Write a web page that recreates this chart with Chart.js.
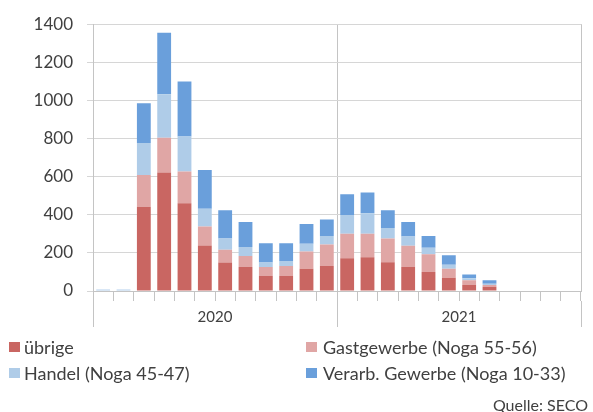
<!DOCTYPE html>
<html>
<head>
<meta charset="utf-8">
<script src="https://cdn.jsdelivr.net/npm/chart.js@4"></script>
<style>
  html, body { margin: 0; padding: 0; background: #fff; }
  #wrap { position: relative; width: 593px; height: 412px; font-family: Lato, "Open Sans", sans-serif; color: #404040; }
  #c { position: absolute; left: 0; top: 0; }
  .lg { position: absolute; font-size: 18px; line-height: 20px; white-space: nowrap; }
  .sq { position: absolute; width: 11px; height: 10px; }
  #src { position: absolute; right: 5px; top: 395px; font-size: 16px; line-height: 20px; }
</style>
</head>
<body>
<div id="wrap">
  <canvas id="c" width="593" height="412"></canvas>
  <div id="legend"></div>
  <div id="src">Quelle: SECO</div>
</div>
<script>
const categories = ['Jan 2020','Feb 2020','Mär 2020','Apr 2020','Mai 2020','Jun 2020','Jul 2020','Aug 2020','Sep 2020','Okt 2020','Nov 2020','Dez 2020',
                    'Jan 2021','Feb 2021','Mär 2021','Apr 2021','Mai 2021','Jun 2021','Jul 2021','Aug 2021','Sep 2021','Okt 2021','Nov 2021','Dez 2021'];
const years = ['2020', '2021'];
const uebrige = [0,0,441,622,461,239,150,126,79,79,117,131,172,177,151,126,100,69,31,22,0,0,0,0];
const gastgewerbe = [0,0,168,182,166,100,67,58,47,52,90,113,129,124,124,112,93,48,26,9,0,0,0,0];
const handel = [5,5,168,229,184,93,58,47,24,26,41,45,98,107,56,48,34,21,10,7,0,0,0,0];
const verarb = [2,2,208,322,288,203,149,131,101,94,103,86,109,109,93,76,62,50,19,19,0,0,0,0];
const yTicks = [0,200,400,600,800,1000,1200,1400];

const seriesNames = ['übrige','Gastgewerbe (Noga 55-56)','Handel (Noga 45-47)','Verarb. Gewerbe (Noga 10-33)'];
const seriesColors = ['#c96662','#e0a6a5','#afcce8','#6a9fdb'];
const seriesData = [uebrige, gastgewerbe, handel, verarb];

const gridColor = '#d6d6d6';
const axisColor = '#c4c4c4';
const FONT = 'Lato, "Open Sans", sans-serif';

new Chart(document.getElementById('c'), {
  type: 'bar',
  data: {
    labels: categories,
    datasets: seriesData.map((d, i) => ({
      label: seriesNames[i],
      data: d,
      backgroundColor: seriesColors[i],
      borderWidth: 0,
      categoryPercentage: 1,
      barPercentage: 0.68,
      xAxisID: 'x',
      yAxisID: 'y'
    }))
  },
  options: {
    responsive: false,
    animation: false,
    layout: { padding: { left: 0, right: 12, top: 11.8, bottom: 81 } },
    plugins: { legend: { display: false }, tooltip: { enabled: false } },
    scales: {
      x: {
        stacked: true,
        position: 'bottom',
        grid: { display: true, drawOnChartArea: false, offset: true, tickLength: 10, color: axisColor, lineWidth: 1 },
        border: { display: true, color: axisColor },
        ticks: { display: false },
        afterFit: s => { s.height = 10; }
      },
      x2: {
        type: 'category',
        labels: years,
        position: 'bottom',
        offset: true,
        grid: { display: true, drawOnChartArea: true, offset: true, tickLength: 26, color: axisColor, lineWidth: 1 },
        border: { display: false },
        ticks: { padding: -19, color: '#404040', font: { family: FONT, size: 15 }, maxRotation: 0, autoSkip: false },
        afterFit: s => { s.height = 30; }
      },
      y: {
        stacked: true,
        min: 0,
        max: 1400,
        afterBuildTicks: s => { s.ticks = yTicks.map(v => ({ value: v })); },
        grid: { color: gridColor, lineWidth: 1, tickLength: 6 },
        border: { display: true, color: axisColor },
        ticks: { padding: 14, color: '#404040', font: { family: FONT, size: 17 }, callback: v => String(v) },
        afterFit: s => { s.width = 93; }
      }
    }
  }
});

const legend = document.getElementById('legend');
const pos = [
  { sx: 9, tx: 24, y: 347 },
  { sx: 306, tx: 323, y: 347 },
  { sx: 9, tx: 24, y: 373 },
  { sx: 306, tx: 323, y: 373 }
];
seriesNames.forEach((name, i) => {
  const p = pos[i];
  const sq = document.createElement('div');
  sq.className = 'sq';
  sq.style.left = p.sx + 'px';
  sq.style.top = (p.y - 5) + 'px';
  sq.style.background = seriesColors[i];
  legend.appendChild(sq);
  const t = document.createElement('div');
  t.className = 'lg';
  t.style.left = p.tx + 'px';
  t.style.top = (p.y - 10) + 'px';
  t.textContent = name;
  legend.appendChild(t);
});
</script>
</body>
</html>
